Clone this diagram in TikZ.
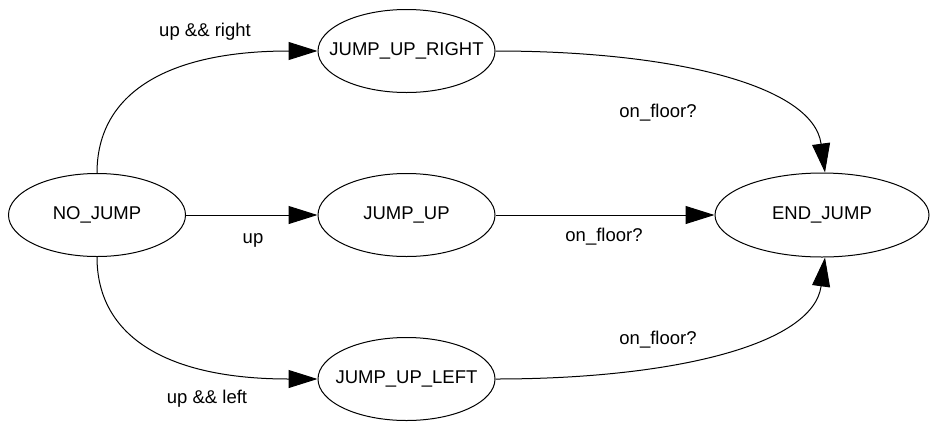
\documentclass[tikz,border=0pt]{standalone}
\usepackage{fontspec}
\setmainfont{Liberation Sans}
\usetikzlibrary{shapes.geometric,arrows.meta}

% state names are set in a zero-width box so the ellipse keeps its fixed size
\newcommand{\statename}[1]{\makebox[0pt][c]{#1}}

\begin{document}
\begin{tikzpicture}[x=1pt,y=-1pt,
  state/.style={draw,ellipse,line width=1pt,inner sep=0pt,
    minimum width=177pt,minimum height=83pt,
    font=\fontsize{18.5}{22}\selectfont},
  edge/.style={line width=1pt,-{Triangle[length=29pt,width=18pt]}},
  elabel/.style={font=\fontsize{18.5}{22}\selectfont,inner sep=0pt}]
  \useasboundingbox[fill=white] (0,0) rectangle (931,424);

  % states
  \node[state] (nj)  at (97,215)    {\statename{NO\_JUMP}};
  \node[state] (jur) at (406.5,51)  {\statename{JUMP\_UP\_RIGHT}};
  \node[state] (ju)  at (406.5,215) {\statename{JUMP\_UP}};
  \node[state] (jul) at (406.5,379) {\statename{JUMP\_UP\_LEFT}};
  \node[state,minimum width=214pt,minimum height=84pt] (ej) at (822,215) {\statename{END\_JUMP}};

  % transitions out of NO_JUMP
  \draw[edge] (nj.north) .. controls +(0,-80) and +(-150,0) .. (jur.west);
  \draw[edge] (nj.east) -- (ju.west);
  \draw[edge] (nj.south) .. controls +(0,80) and +(-150,0) .. (jul.west);

  % transitions into END_JUMP
  \draw[edge] (jur.east) .. controls +(175,0) and +(-12,-88) .. ([xshift=3pt]ej.north);
  \draw[edge] (ju.east) -- (ej.west);
  \draw[edge] (jul.east) .. controls +(175,0) and +(-12,88) .. ([xshift=3pt]ej.south);

  % labels
  \node[elabel] (l1) at (205,32)  {up \&\& right};
  \node[elabel] (l2) at (253,240) {up};
  \node[elabel] (l3) at (207,399) {up \&\& left};
  \node[elabel] (l4) at (658,113) {on\_floor?};
  \node[elabel] (l5) at (604,237) {on\_floor?};
  \node[elabel] (l6) at (658,340) {on\_floor?};
\end{tikzpicture}
\end{document}
